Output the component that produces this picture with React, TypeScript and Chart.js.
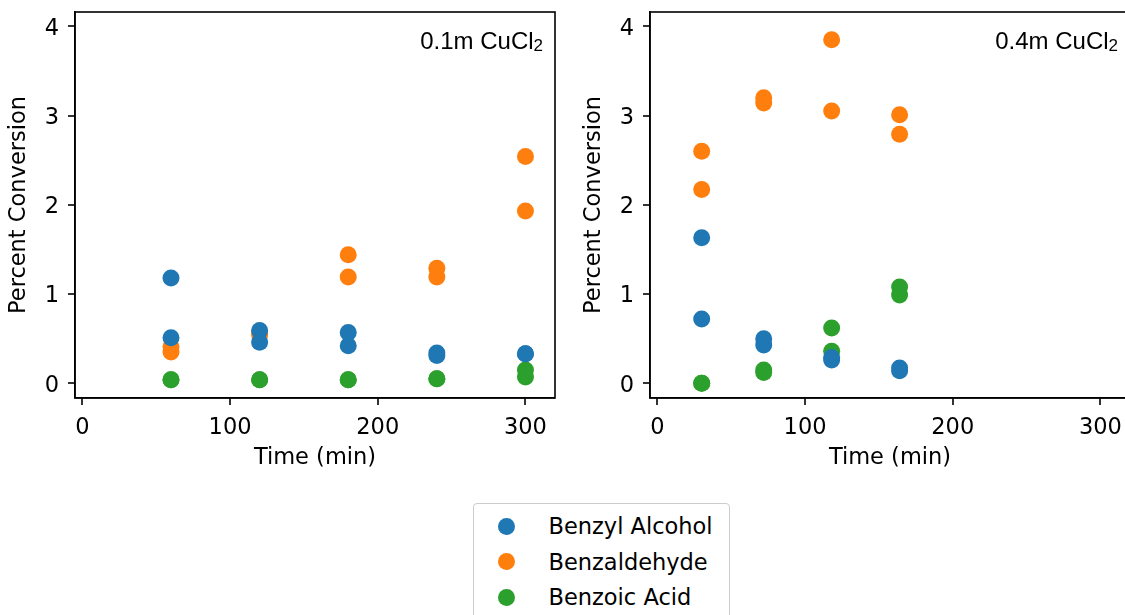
import React, { useEffect, useRef } from 'react';
import { Chart, registerables } from 'chart.js';

Chart.register(...registerables);

// ---- data ----
const seriesNames = ['Benzyl Alcohol', 'Benzaldehyde', 'Benzoic Acid'];
const seriesColors = ['#1f77b4', '#ff7f0e', '#2ca02c'];

const timesLow = [60, 60, 120, 120, 180, 180, 240, 240, 300, 300];
const alcoholLow = [1.18, 0.51, 0.59, 0.46, 0.57, 0.42, 0.34, 0.31, 0.33, 0.33];
const aldehydeLow = [0.41, 0.35, 0.57, 0.54, 1.44, 1.19, 1.29, 1.19, 2.54, 1.93];
const acidLow = [0.04, 0.04, 0.04, 0.04, 0.04, 0.04, 0.05, 0.05, 0.15, 0.07];

const timesHigh = [30, 30, 72, 72, 118, 118, 164, 164];
const alcoholHigh = [1.63, 0.72, 0.5, 0.43, 0.29, 0.26, 0.17, 0.14];
const aldehydeHigh = [2.6, 2.17, 3.2, 3.14, 3.85, 3.05, 3.01, 2.79];
const acidHigh = [0.0, 0.0, 0.15, 0.12, 0.62, 0.36, 1.08, 0.99];

const panelLabels = ['0.1m CuCl', '0.4m CuCl'];
const panelSubscript = '2';

const xTicks = [0, 100, 200, 300];
const yTicks = [0, 1, 2, 3, 4];
const xRange = [-5, 320];
const yRange = [-0.165, 4.16];

const xTitle = 'Time (min)';
const yTitle = 'Percent Conversion';

const FONT = "'DejaVu Sans', sans-serif";
const FONT_SIZE = 22.5;

function makeFramePlugin(label: string) {
  return {
    id: 'frameAndLabel',
    beforeDatasetsDraw(chart: any) {
      const { ctx, chartArea } = chart;
      ctx.save();
      ctx.strokeStyle = '#000';
      ctx.lineWidth = 1.6;
      ctx.strokeRect(chartArea.left, chartArea.top, chartArea.right - chartArea.left, chartArea.bottom - chartArea.top);
      ctx.restore();
    },
    afterDraw(chart: any) {
      const { ctx, chartArea } = chart;
      ctx.save();
      ctx.fillStyle = '#000';
      ctx.textAlign = 'right';
      ctx.textBaseline = 'alphabetic';
      const right = chartArea.right - 12;
      ctx.font = "17px 'Liberation Sans', Arial, sans-serif";
      const subW = ctx.measureText(panelSubscript).width;
      ctx.fillText(panelSubscript, right, 51);
      ctx.font = "24px 'Liberation Sans', Arial, sans-serif";
      ctx.fillText(label, right - subW, 48.5);
      ctx.restore();
    },
  };
}

function Panel({ left, times, values, label }: { left: number; times: number[]; values: number[][]; label: string }) {
  const ref = useRef<HTMLCanvasElement | null>(null);
  useEffect(() => {
    if (!ref.current) return;
    const axisFont = { family: FONT, size: FONT_SIZE };
    const grid = {
      display: true,
      drawOnChartArea: false,
      drawTicks: true,
      tickLength: 7,
      tickWidth: 1.6,
      tickColor: '#000',
      lineWidth: 0,
    };
    const chart = new Chart(ref.current, {
      type: 'scatter',
      data: {
        datasets: values.map((vals, si) => ({
          label: seriesNames[si],
          data: times.map((t, i) => ({ x: t, y: vals[i] })),
          pointRadius: 8.5,
          pointHoverRadius: 8.5,
          pointBorderWidth: 0,
          pointBackgroundColor: seriesColors[si],
          backgroundColor: seriesColors[si],
          borderColor: seriesColors[si],
        })),
      },
      options: {
        responsive: false,
        animation: false,
        events: [],
        layout: { padding: { top: 12, right: 11, left: 0, bottom: 0 } },
        plugins: { legend: { display: false }, tooltip: { enabled: false } },
        scales: {
          x: {
            type: 'linear',
            min: xRange[0],
            max: xRange[1],
            afterBuildTicks: (s: any) => {
              s.ticks = xTicks.map((v) => ({ value: v }));
            },
            afterFit: (s: any) => {
              s.height = 82;
              s.paddingLeft = 0;
              s.paddingRight = 0;
            },
            grid,
            border: { display: true, color: '#000', width: 1.6 },
            ticks: { color: '#000', font: axisFont, padding: 10, maxRotation: 0, autoSkip: false },
            title: { display: true, text: xTitle, color: '#000', font: axisFont, padding: { top: 0, bottom: 8 } },
          },
          y: {
            type: 'linear',
            min: yRange[0],
            max: yRange[1],
            afterBuildTicks: (s: any) => {
              s.ticks = yTicks.map((v) => ({ value: v }));
            },
            afterFit: (s: any) => {
              s.width = 75;
              s.paddingTop = 0;
              s.paddingBottom = 0;
            },
            grid,
            border: { display: true, color: '#000', width: 1.6 },
            ticks: { color: '#000', font: axisFont, padding: 9, labelOffset: 2.5, autoSkip: false },
            title: { display: true, text: yTitle, color: '#000', font: axisFont, padding: { top: 6, bottom: 0 } },
          },
        },
      } as any,
      plugins: [makeFramePlugin(label)],
    });
    return () => chart.destroy();
  }, []);
  return (
    <canvas
      ref={ref}
      width={566}
      height={480}
      style={{ position: 'absolute', left, top: 0, width: 566, height: 480 }}
    />
  );
}

export default function App() {
  return (
    <div
      style={{
        position: 'absolute',
        left: 0,
        top: 0,
        width: 1125,
        height: 615,
        overflow: 'hidden',
        background: '#fff',
      }}
    >
      <Panel left={0} times={timesLow} values={[alcoholLow, aldehydeLow, acidLow]} label={panelLabels[0]} />
      <Panel left={575} times={timesHigh} values={[alcoholHigh, aldehydeHigh, acidHigh]} label={panelLabels[1]} />
      <div
        style={{
          position: 'absolute',
          left: 473,
          top: 503,
          width: 257,
          height: 130,
          border: '1.5px solid #cccccc',
          borderRadius: 4,
          background: '#fff',
          boxSizing: 'border-box',
          fontFamily: FONT,
          fontSize: FONT_SIZE,
          color: '#000',
        }}
      >
        {seriesNames.map((name, i) => (
          <div
            key={name}
            style={{ position: 'absolute', left: 0, top: 22 + i * 35.5 - 14, height: 28, width: '100%' }}
          >
            <span
              style={{
                position: 'absolute',
                left: 34 - 8.5 - 1.5,
                top: 14 - 8.5,
                width: 17,
                height: 17,
                borderRadius: '50%',
                background: seriesColors[i],
              }}
            />
            <span style={{ position: 'absolute', left: 76 - 1.5, top: 0, lineHeight: '28px', whiteSpace: 'nowrap' }}>
              {name}
            </span>
          </div>
        ))}
      </div>
    </div>
  );
}
